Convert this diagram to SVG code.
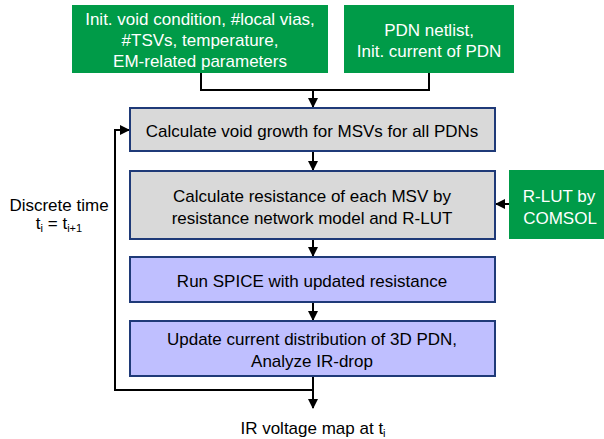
<svg xmlns="http://www.w3.org/2000/svg" width="604" height="439" viewBox="0 0 604 439">
<style>
text{font-family:"Liberation Sans",Arial,sans-serif;font-size:17px;text-anchor:middle;fill:#000}
.w{fill:#fff}
.green{fill:#009B48;stroke:none}
.gray{fill:#D9D9D9;stroke:#1F3A78;stroke-width:2}
.blue{fill:#BFBFFF;stroke:#1F3A78;stroke-width:2}
.c{fill:none;stroke:#000;stroke-width:2}
</style>
<defs>
<marker id="ah" markerWidth="10" markerHeight="10" refX="9" refY="5" orient="auto" markerUnits="userSpaceOnUse" viewBox="0 0 10 10">
<path d="M0,0 L10,5 L0,10 z" fill="#000"/>
</marker>
</defs>
<rect width="604" height="439" fill="#fff"/>
<g id="connectors">
<polyline class="c" points="201,73 201,90 429,90 429,73"/>
<line class="c" x1="313" y1="90" x2="313" y2="107" marker-end="url(#ah)"/>
<line class="c" x1="313" y1="152" x2="313" y2="170" marker-end="url(#ah)"/>
<line class="c" x1="509" y1="204" x2="496" y2="204" marker-end="url(#ah)"/>
<line class="c" x1="313" y1="240" x2="313" y2="256" marker-end="url(#ah)"/>
<line class="c" x1="313" y1="303" x2="313" y2="320" marker-end="url(#ah)"/>
<line class="c" x1="313" y1="377" x2="313" y2="408" marker-end="url(#ah)"/>
<polyline class="c" points="313,390 115,390 115,130 129,130" marker-end="url(#ah)"/>
</g>
<g id="init">
<rect class="green" x="72" y="5" width="256" height="68"/>
<text class="w" x="200" y="25">Init. void condition, #local vias,</text>
<text class="w" x="200" y="46">#TSVs, temperature,</text>
<text class="w" x="200" y="67">EM-related parameters</text>
</g>
<g id="pdn">
<rect class="green" x="344" y="5" width="170" height="68"/>
<text class="w" x="429" y="36">PDN netlist,</text>
<text class="w" x="429" y="57">Init. current of PDN</text>
</g>
<g id="void">
<rect class="gray" x="130" y="108" width="365" height="43"/>
<text x="312" y="136.5">Calculate void growth for MSVs for all  PDNs</text>
</g>
<g id="resistance">
<rect class="gray" x="130" y="171" width="365" height="68"/>
<text x="312" y="202">Calculate resistance of each MSV by</text>
<text x="312" y="223.5">resistance network model and R-LUT</text>
</g>
<g id="rlut">
<rect class="green" x="509" y="170" width="95" height="69"/>
<text class="w" x="559" y="202">R-LUT by</text>
<text class="w" x="560" y="223.5">COMSOL</text>
</g>
<g id="spice">
<rect class="blue" x="130" y="257" width="365" height="45"/>
<text x="312" y="287">Run SPICE with updated resistance</text>
</g>
<g id="update">
<rect class="blue" x="130" y="321" width="365" height="55"/>
<text x="312" y="345">Update current distribution of 3D PDN,</text>
<text x="312" y="366.5">Analyze IR-drop</text>
</g>
<g id="discrete">
<text x="59" y="211">Discrete time</text>
<text x="59" y="229">t<tspan font-size="11" dy="3">i</tspan><tspan dy="-3"> = t</tspan><tspan font-size="11" dy="3">i+1</tspan></text>
</g>
<g id="output">
<text x="313" y="434">IR voltage map at t<tspan font-size="11" dy="3">i</tspan></text>
</g>
</svg>
